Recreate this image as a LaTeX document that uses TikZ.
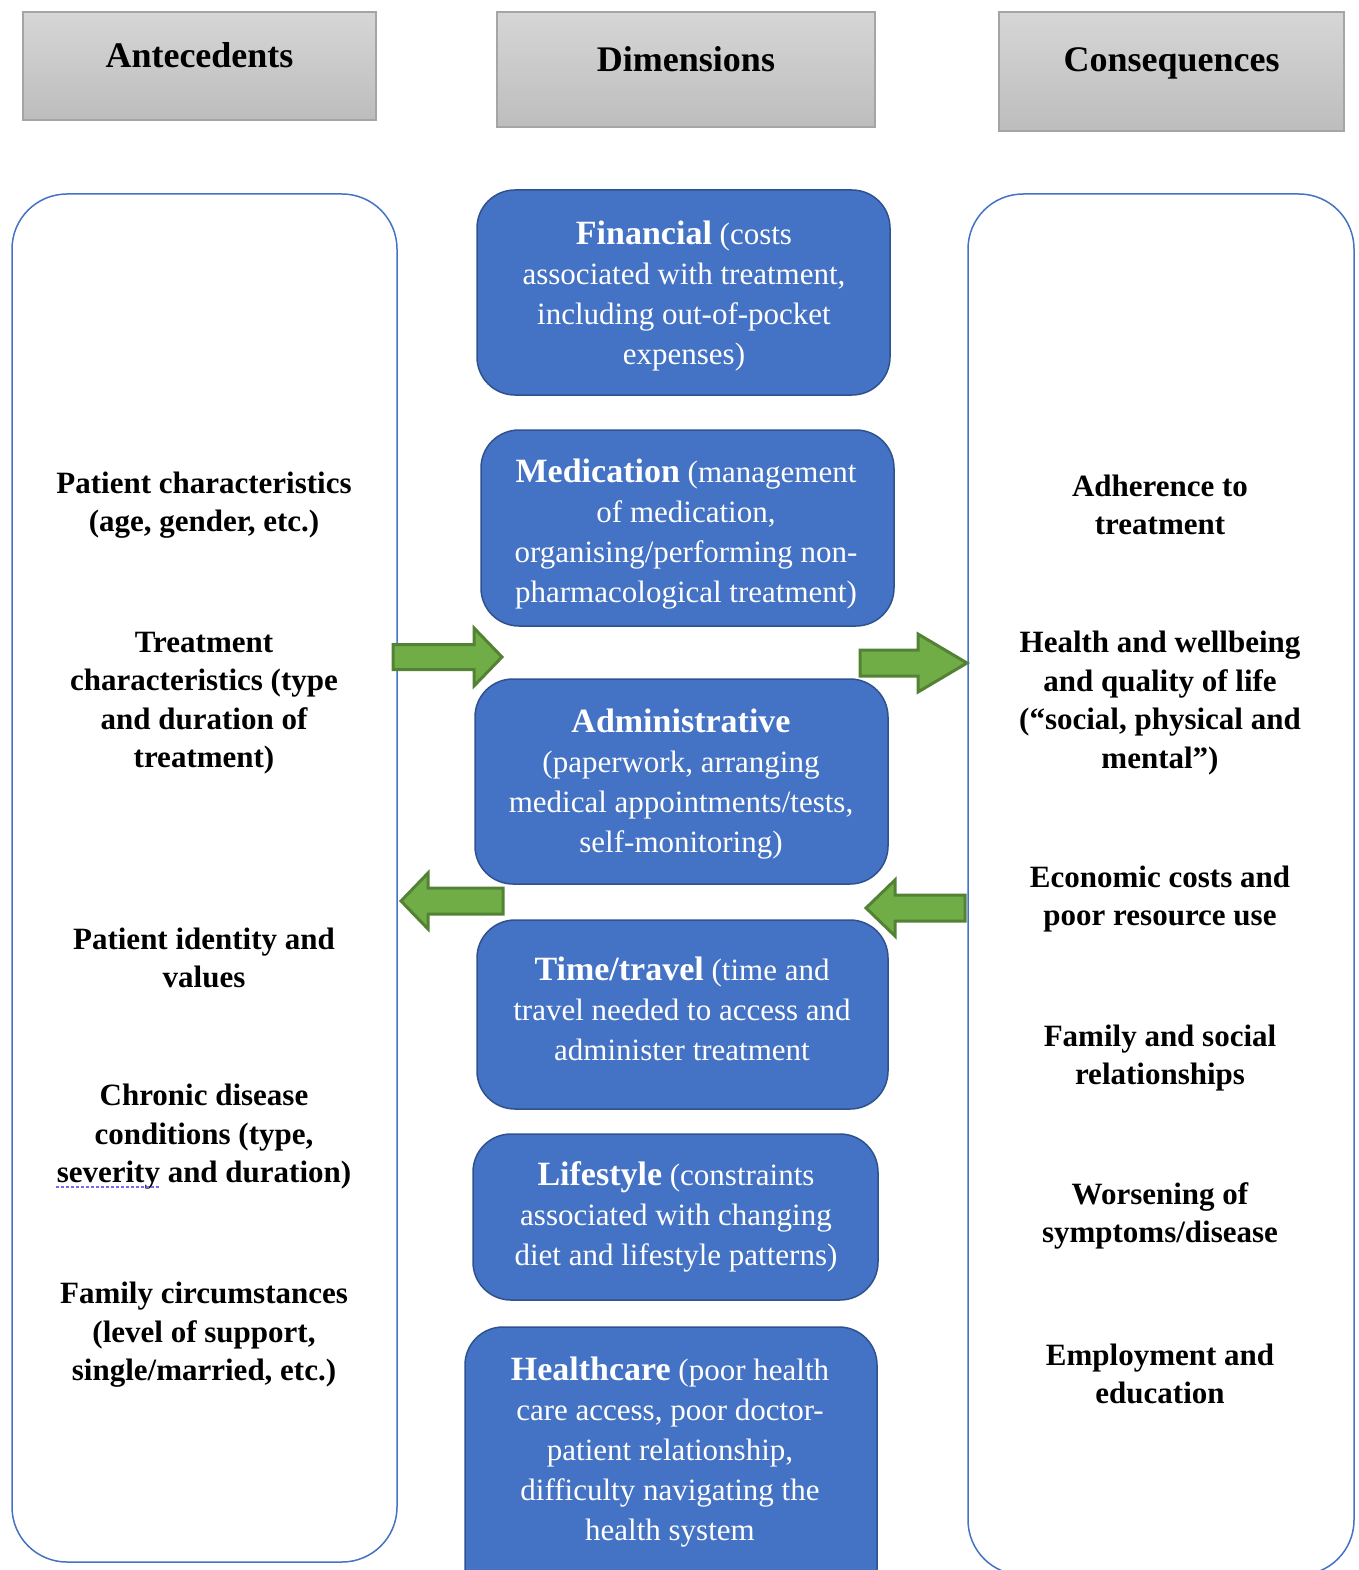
\documentclass[tikz,border=0pt]{standalone}
\usepackage{fontspec}
\setmainfont{Liberation Serif}
\definecolor{bluefill}{HTML}{4472C4}
\definecolor{blueedge}{HTML}{2F528F}
\definecolor{greenfill}{HTML}{70AD47}
\definecolor{greenedge}{HTML}{548235}
\definecolor{hdrtop}{HTML}{D6D6D6}
\definecolor{hdrbot}{HTML}{BDBDBD}
\definecolor{hdredge}{HTML}{A5A5A5}
\definecolor{spellc}{HTML}{7B68EE}
\newcommand\bw[1]{{\fontsize{34}{40}\selectfont\bfseries #1}}
\begin{document}
\begin{tikzpicture}[x=1pt,y=-1pt,
  hdr/.style={draw=hdredge, line width=1.5pt, top color=hdrtop, bottom color=hdrbot, inner sep=0pt},
  hdrtext/.style={font=\fontsize{36}{42}\selectfont\bfseries, inner sep=0pt},
  container/.style={draw=bluefill, line width=1.5pt, rounded corners=55pt, inner sep=0pt},
  bluebox/.style={draw=blueedge, fill=bluefill, line width=1.5pt, rounded corners=38pt, inner sep=0pt},
  bluetext/.style={text=white, align=center, font=\fontsize{31}{40}\selectfont, inner sep=0pt},
  side/.style={align=center, font=\fontsize{31}{38.5}\selectfont\bfseries, inner sep=0pt},
  garrow/.style={draw=greenedge, fill=greenfill, line width=3pt, line join=miter},
  spell/.style={draw=spellc, line width=1.5pt, dash pattern=on 3pt off 2pt}
]
\useasboundingbox (0,0) rectangle (1358,1570);

% headers
\node[hdr, minimum width=353pt, minimum height=108pt] (hA) at (199.5,66) {};
\node[hdr, minimum width=378pt, minimum height=115pt] (hD) at (686,69.5) {};
\node[hdr, minimum width=345pt, minimum height=119pt] (hC) at (1171.5,71.5) {};
\node[hdrtext] (hAt) at (199.5,55) {Antecedents};
\node[hdrtext] (hDt) at (686,59) {Dimensions};
\node[hdrtext] (hCt) at (1171.5,63) {Consequences};

% containers
\node[container, minimum width=385pt, minimum height=1368pt] (cL) at (204.5,878) {};
\node[container, minimum width=386pt, minimum height=1381pt] (cR) at (1161,884.5) {};

% blue boxes
\node[bluebox, minimum width=413pt, minimum height=205pt] (fin) at (683.5,292.5) {};
\node[bluebox, minimum width=413pt, minimum height=196pt] (med) at (687.5,528) {};
\node[bluebox, minimum width=413pt, minimum height=205pt] (adm) at (681.5,781.5) {};
\node[bluebox, minimum width=411pt, minimum height=189pt] (tim) at (682.5,1014.5) {};
\node[bluebox, minimum width=405pt, minimum height=166pt] (lif) at (675.5,1217) {};
\node[bluebox, minimum width=412pt, minimum height=280pt] (hea) at (671,1467) {};

\node[bluetext] (finT) at (684,296) {\bw{Financial} (costs\\associated with treatment,\\including out-of-pocket\\expenses)};
\node[bluetext] (medT) at (686,534) {\bw{Medication} (management\\of medication,\\organising/performing non-\\pharmacological treatment)};
\node[bluetext] (admT) at (681,784) {\bw{Administrative}\\(paperwork, arranging\\medical appointments/tests,\\self-monitoring)};
\node[bluetext] (timT) at (682,1009) {\bw{Time/travel} (time and\\travel needed to access and\\administer treatment};
\node[bluetext] (lifT) at (676,1217) {\bw{Lifestyle} (constraints\\associated with changing\\diet and lifestyle patterns)};
\node[bluetext] (heaT) at (670,1452) {\bw{Healthcare} (poor health\\care access, poor doctor-\\patient relationship,\\difficulty navigating the\\health system};

% antecedents
\node[side] (a1) at (204,505) {Patient characteristics\\(age, gender, etc.)};
\node[side] (a2) at (204,703) {Treatment\\characteristics (type\\and duration of\\treatment)};
\node[side] (a3) at (204,958) {Patient identity and\\values};
\node[side] (a4) at (204,1137) {Chronic disease\\conditions (type,\\severity and duration)};
\node[side] (a5) at (204,1335) {Family circumstances\\(level of support,\\single/married, etc.)};
\draw[spell] (56,1187) -- (160,1187);

% consequences
\node[side] (c1) at (1160,505) {Adherence to\\treatment};
\node[side] (c2) at (1160,703) {Health and wellbeing\\and quality of life\\(“social, physical and\\mental”)};
\node[side] (c3) at (1160,899) {Economic costs and\\poor resource use};
\node[side] (c4) at (1160,1058) {Family and social\\relationships};
\node[side] (c5) at (1160,1216) {Worsening of\\symptoms/disease};
\node[side] (c6) at (1160,1374) {Employment and\\education};

% green block arrows
\draw[garrow] (393,644.5) -- (474,644.5) -- (474,628) -- (502,657) -- (474,686) -- (474,669.5) -- (393,669.5) -- cycle;
\draw[garrow] (860,650) -- (918,650) -- (918,634) -- (967,663) -- (918,692) -- (918,676) -- (860,676) -- cycle;
\draw[garrow] (503,888) -- (428,888) -- (428,873) -- (401,901) -- (428,929) -- (428,914) -- (503,914) -- cycle;
\draw[garrow] (965,895) -- (895,895) -- (895,880) -- (866,908) -- (895,936) -- (895,921) -- (965,921) -- cycle;
\end{tikzpicture}
\end{document}
